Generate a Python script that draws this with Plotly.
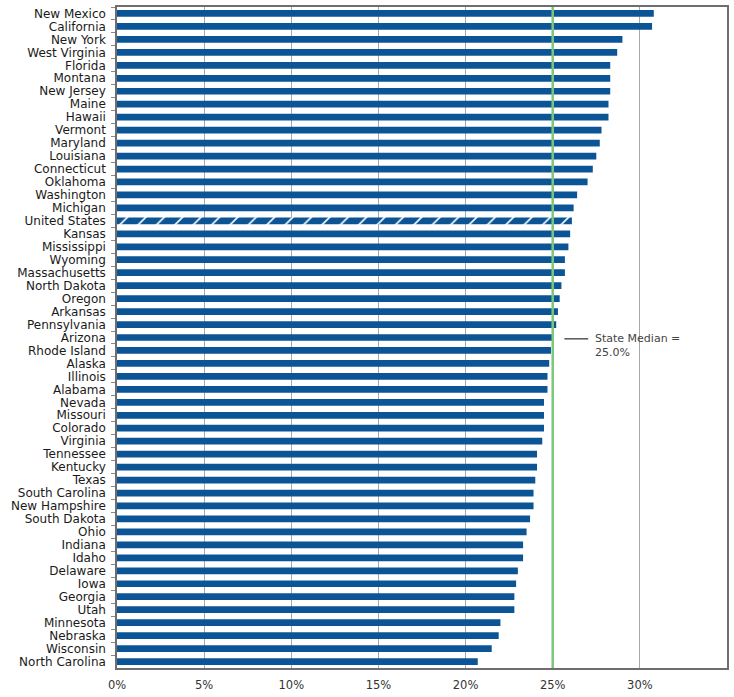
import plotly.graph_objects as go

states = ["New Mexico", "California", "New York", "West Virginia", "Florida", "Montana",
          "New Jersey", "Maine", "Hawaii", "Vermont", "Maryland", "Louisiana", "Connecticut",
          "Oklahoma", "Washington", "Michigan", "United States", "Kansas", "Mississippi",
          "Wyoming", "Massachusetts", "North Dakota", "Oregon", "Arkansas", "Pennsylvania",
          "Arizona", "Rhode Island", "Alaska", "Illinois", "Alabama", "Nevada", "Missouri",
          "Colorado", "Virginia", "Tennessee", "Kentucky", "Texas", "South Carolina",
          "New Hampshire", "South Dakota", "Ohio", "Indiana", "Idaho", "Delaware", "Iowa",
          "Georgia", "Utah", "Minnesota", "Nebraska", "Wisconsin", "North Carolina"]
values = [30.8, 30.7, 29.0, 28.7, 28.3, 28.3,
          28.3, 28.2, 28.2, 27.8, 27.7, 27.5, 27.3,
          27.0, 26.4, 26.2, 26.1, 26.0, 25.9,
          25.7, 25.7, 25.5, 25.4, 25.3, 25.2,
          25.0, 24.9, 24.8, 24.7, 24.7, 24.5, 24.5,
          24.5, 24.4, 24.1, 24.1, 24.0, 23.9,
          23.9, 23.7, 23.5, 23.3, 23.3, 23.0, 22.9,
          22.8, 22.8, 22.0, 21.9, 21.5, 20.7]
median_value = 25.0
median_label = "State Median =<br>25.0%"
x_ticks = [0, 5, 10, 15, 20, 25, 30, 35]
x_ticktext = ["0%", "5%", "10%", "15%", "20%", "25%", "30%", "35%"]

patterns = ["/" if s == "United States" else "" for s in states]

fig = go.Figure()
fig.add_trace(go.Bar(
    y=states, x=values, orientation="h",
    marker=dict(color="#0b5596", line=dict(width=0),
                pattern=dict(shape=patterns, fgcolor="white", bgcolor="#0b5596",
                             size=13, solidity=0.12, fillmode="replace")),
    width=0.52, hoverinfo="x+y",
))

fig.add_shape(type="line", xref="x", yref="paper", x0=median_value, x1=median_value,
              y0=0, y1=1, line=dict(color="#7cc67c", width=2.5), layer="above")
fig.add_shape(type="line", xref="x", yref="paper", x0=25.67, x1=27.04,
              y0=0.498, y1=0.498, line=dict(color="#555555", width=1.5))
fig.add_annotation(text=median_label, xref="x", yref="paper", x=27.3, y=0.512,
                   xanchor="left", yanchor="top", showarrow=False, align="left",
                   font=dict(family="DejaVu Sans", size=11, color="#444444"))

fig.update_layout(
    width=734, height=697,
    margin=dict(l=117, r=5, t=6, b=26),
    paper_bgcolor="white", plot_bgcolor="white",
    showlegend=False,
    font=dict(family="DejaVu Sans", color="#1a1a1a"),
    xaxis=dict(range=[0, 35], tickvals=x_ticks, ticktext=x_ticktext,
               showgrid=True, gridcolor="#a8a8a8", gridwidth=1.2,
               showline=True, linecolor="#6e6e6e", linewidth=1.5, mirror=True,
               ticks="", tickfont=dict(size=11.5, color="#333333"), zeroline=False,
               ticklabelstandoff=5, fixedrange=True),
    yaxis=dict(autorange="reversed", showgrid=False, showline=True,
               tickmode="linear", tick0=0, dtick=1,
               linecolor="#6e6e6e", linewidth=1.5, mirror=True,
               ticks="outside", ticklen=4, tickcolor="#888888", tickson="boundaries",
               tickfont=dict(size=12, color="#1a1a1a"), ticklabelstandoff=7,
               fixedrange=True),
)

fig.write_html("out.html")
